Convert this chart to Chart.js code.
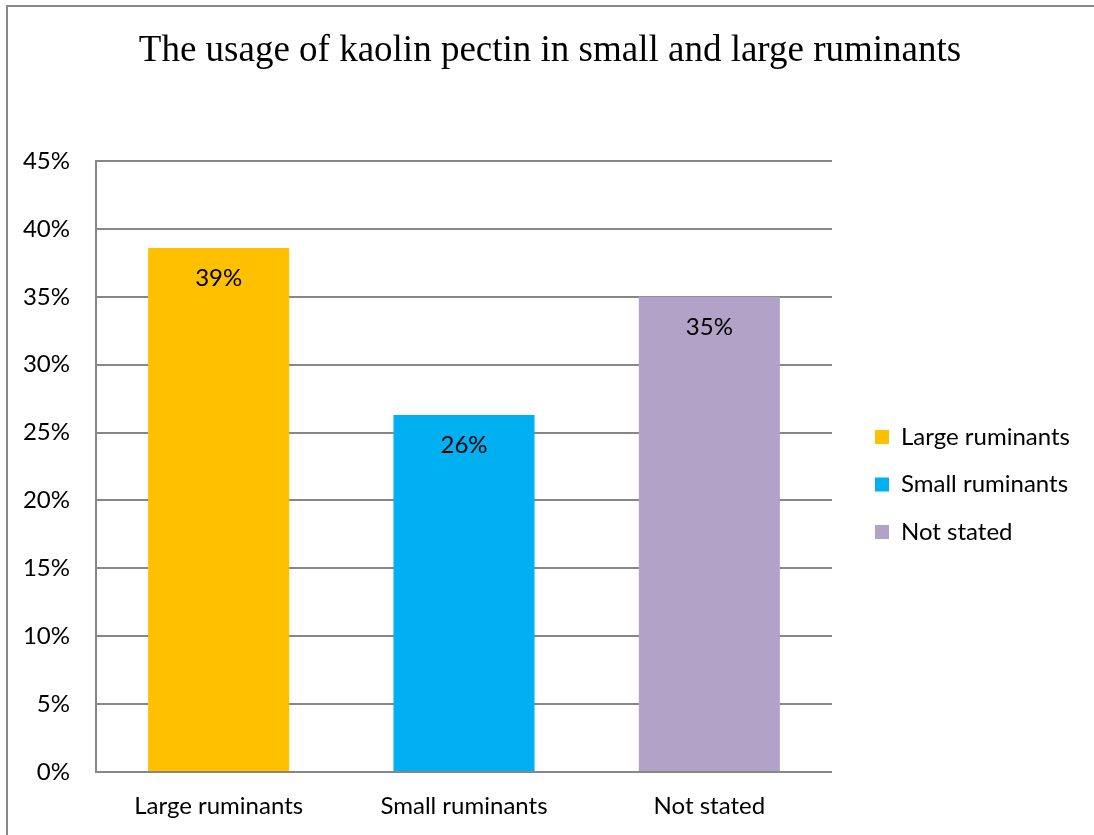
<!DOCTYPE html>
<html>
<head>
<meta charset="utf-8">
<script src="https://cdn.jsdelivr.net/npm/chart.js@4.4.1/dist/chart.umd.min.js"></script>
<style>
  body { margin: 0; background: #fff; overflow: hidden; }
  #frame { position: absolute; left: 6px; top: 5px; width: 1200px; height: 900px; border: 2px solid #898989; }
  #chart { display: block; }
</style>
</head>
<body>
<div id="frame"><canvas id="chart" width="1100" height="840"></canvas></div>
<script>
var categories = ['Large ruminants', 'Small ruminants', 'Not stated']
var shares = [38.6, 26.3, 35.0]
var barColors = ['#FFC000', '#00B0F0', '#B2A2C7']
var yTicks = [0, 5, 10, 15, 20, 25, 30, 35, 40, 45]

var sansFont = 'Lato, "Open Sans", sans-serif'
var textSize = 24
var gridGray = '#878787'

// legend geometry: box 14px, rows 47.5px apart, box starts 43px right of the plot
var legendBox = 14
var legendPad = 23.5
var legendLeft = 843.5
var canvasWidth = 1100

// the legend is as wide as its longest label, so measure it to keep the plot edge fixed
var measureCtx = document.createElement('canvas').getContext('2d')
measureCtx.font = textSize + 'px ' + sansFont
var longest = Math.max.apply(null, categories.map(function(c) { return measureCtx.measureText(c).width }))
var legendWidth = legendPad + legendBox + textSize / 2 + longest + 10
var rightPad = canvasWidth - legendLeft - legendWidth

// percent text inside the top of each bar
var barValueLabels = {
    id: 'barValueLabels',
    afterDatasetsDraw: function(chart) {
        var ctx = chart.ctx
        var meta = chart.getDatasetMeta(0)
        ctx.save()
        ctx.font = textSize + 'px ' + sansFont
        ctx.fillStyle = '#000'
        ctx.textAlign = 'center'
        ctx.textBaseline = 'middle'
        meta.data.forEach(function(bar, i) {
            ctx.fillText(Math.round(shares[i]) + '%', bar.x, bar.y + 30)
        })
        ctx.restore()
    }
}

var ctx = document.getElementById('chart')
var myChart = new Chart(ctx, {
    type: 'bar',
    data: {
        labels: categories,
        datasets: [{
            data: shares,
            backgroundColor: barColors,
            borderWidth: 0,
            barPercentage: 0.575,
            categoryPercentage: 1
        }]
    },
    options: {
        responsive: false,
        animation: false,
        devicePixelRatio: 1,
        layout: { padding: { left: 12, right: rightPad, top: 0, bottom: 0 } },
        plugins: {
            title: {
                display: true,
                text: 'The usage of kaolin pectin in small and large ruminants',
                color: '#000',
                font: { family: '"Liberation Serif", "Times New Roman", serif', size: 37, weight: 'normal' },
                padding: { top: 22.3, bottom: 87.3 }
            },
            legend: {
                position: 'right',
                align: 'start',
                maxWidth: 400,
                title: { display: true, text: '', font: { size: 12 }, padding: { top: 380.1, bottom: 0 } },
                labels: {
                    boxWidth: legendBox,
                    boxHeight: legendBox,
                    padding: legendPad,
                    color: '#000',
                    font: { family: sansFont, size: textSize },
                    generateLabels: function(chart) {
                        return categories.map(function(name, i) {
                            return { text: name, fillStyle: barColors[i], strokeStyle: barColors[i], fontColor: '#000', lineWidth: 0, hidden: false, index: i }
                        })
                    }
                },
                onClick: function() {}
            },
            tooltip: { enabled: false }
        },
        scales: {
            x: {
                grid: { display: false, drawTicks: false },
                border: { display: false },
                ticks: { color: '#000', font: { family: sansFont, size: textSize }, padding: 19.6 },
                afterFit: function(scale) { scale.height = 75 }
            },
            y: {
                min: 0,
                max: 45,
                afterBuildTicks: function(scale) { scale.ticks = yTicks.map(function(v) { return { value: v } }) },
                grid: { color: gridGray, lineWidth: 2, drawTicks: false },
                border: { display: true, color: gridGray, width: 2 },
                ticks: {
                    color: '#000',
                    font: { family: sansFont, size: textSize },
                    padding: 26,
                    callback: function(v) { return v + '%' }
                },
                afterFit: function(scale) { scale.width = 76 }
            },
            // empty axis keeping the legend clear of the plot
            gap: {
                type: 'linear',
                position: 'right',
                grid: { display: false, drawTicks: false },
                border: { display: false },
                ticks: { display: false },
                afterFit: function(scale) { scale.width = 19.5 }
            }
        }
    },
    plugins: [barValueLabels]
})
</script>
</body>
</html>
